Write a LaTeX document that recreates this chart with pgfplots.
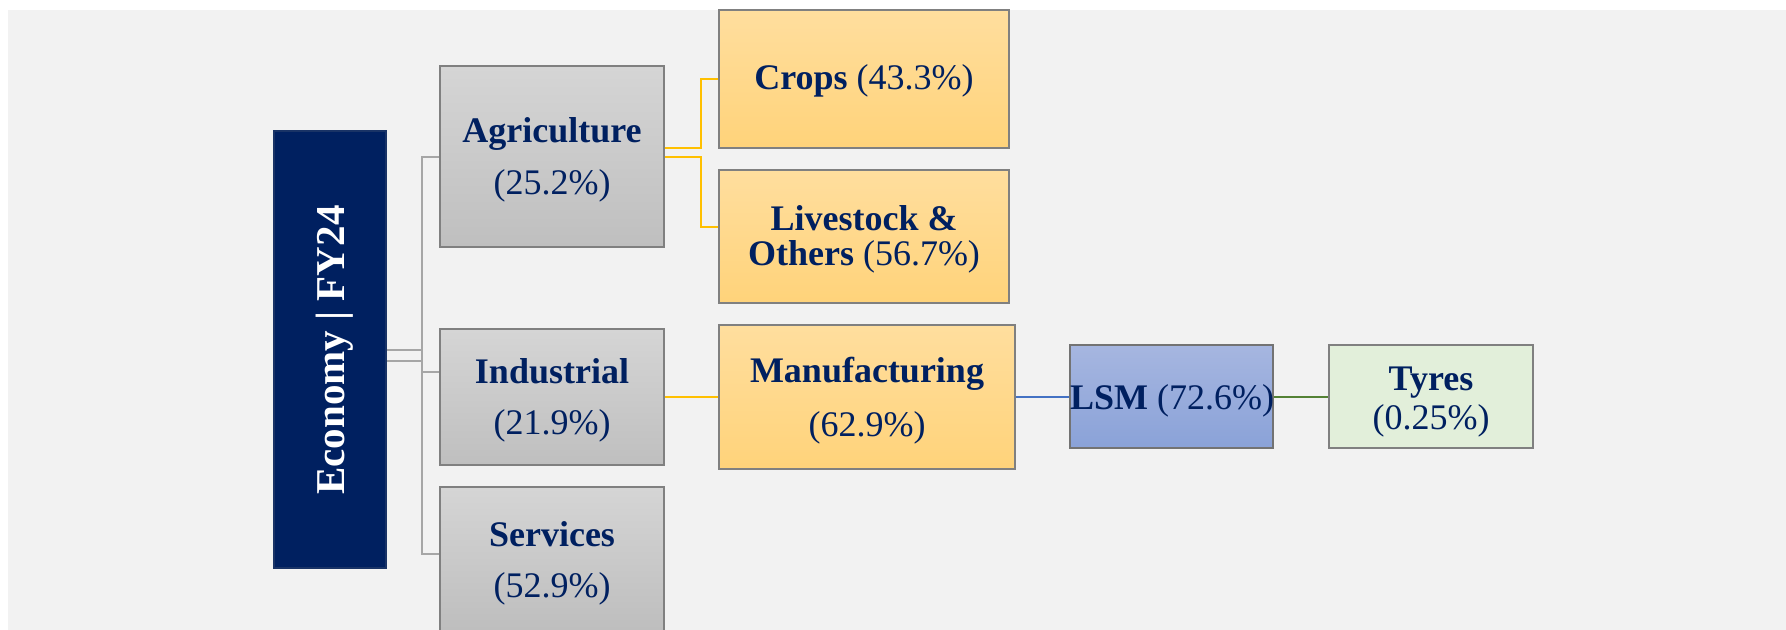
\documentclass[border=0pt]{standalone}
\usepackage{fontspec}
\setmainfont{Liberation Serif}
\usepackage{pgfplots}
\pgfplotsset{compat=1.18}

\definecolor{navy}{HTML}{002060}
\definecolor{bgray}{HTML}{F2F2F2}
\definecolor{linegray}{HTML}{A6A6A6}
\definecolor{gold}{HTML}{FFC000}
\definecolor{lblue}{HTML}{4472C4}
\definecolor{lgreen}{HTML}{548235}

% one box: x1, y1, x2, y2 (pixels from top left), style
\newcommand{\rect}[5]{\addplot[#5] coordinates {(#1,#2) (#3,#2) (#3,#4) (#1,#4)} -- cycle;}
\newcommand{\lbl}[3]{\node[anchor=base, text=navy, font=\fontsize{18}{21}\selectfont] at (axis cs:#1,#2) {#3};}

\begin{document}
\begin{tikzpicture}
\begin{axis}[
    hide axis, scale only axis,
    width=893pt, height=315pt,
    xmin=0, xmax=1786, ymin=0, ymax=630, y dir=reverse,
]
% background
\rect{0}{0}{1786}{630}{draw=none, fill=white}
\rect{8}{10}{1786}{630}{draw=none, fill=bgray}

% connectors
\addplot[linegray, line width=1.4pt] coordinates {(386,350) (422,350)};
\addplot[linegray, line width=1.4pt] coordinates {(386,361) (422,361)};
\addplot[linegray, line width=1.4pt] coordinates {(440,157) (422,157) (422,554) (440,554)};
\addplot[linegray, line width=1.4pt] coordinates {(422,372) (440,372)};
\addplot[gold, line width=1.4pt] coordinates {(664,148) (701,148) (701,79) (719,79)};
\addplot[gold, line width=1.4pt] coordinates {(664,157) (701,157) (701,227) (719,227)};
\addplot[gold, line width=1.4pt] coordinates {(664,397) (719,397)};
\addplot[lblue, line width=1.4pt] coordinates {(1015,397) (1070,397)};
\addplot[lgreen, line width=1.4pt] coordinates {(1273,397) (1329,397)};

% boxes
\rect{274}{131}{386}{568}{draw=navy!80!gray, line width=0.6pt, fill=navy}
\rect{440}{66}{664}{247}{draw=gray, line width=0.8pt, top color={rgb,255:red,213;green,213;blue,213}, bottom color={rgb,255:red,191;green,191;blue,191}}
\rect{440}{329}{664}{465}{draw=gray, line width=0.8pt, top color={rgb,255:red,213;green,213;blue,213}, bottom color={rgb,255:red,191;green,191;blue,191}}
\rect{440}{487}{664}{660}{draw=gray, line width=0.8pt, top color={rgb,255:red,213;green,213;blue,213}, bottom color={rgb,255:red,185;green,185;blue,185}}
\rect{719}{10}{1009}{148}{draw=gray, line width=0.8pt, top color={rgb,255:red,255;green,222;blue,158}, bottom color={rgb,255:red,255;green,211;blue,122}}
\rect{719}{170}{1009}{303}{draw=gray, line width=0.8pt, top color={rgb,255:red,255;green,222;blue,158}, bottom color={rgb,255:red,255;green,211;blue,122}}
\rect{719}{325}{1015}{469}{draw=gray, line width=0.8pt, top color={rgb,255:red,255;green,222;blue,158}, bottom color={rgb,255:red,255;green,211;blue,122}}
\rect{1070}{345}{1273}{448}{draw=gray!90!black, line width=0.8pt, top color={rgb,255:red,166;green,182;blue,224}, bottom color={rgb,255:red,138;green,162;blue,216}}
\rect{1329}{345}{1533}{448}{draw=gray, line width=0.8pt, fill={rgb,255:red,226;green,239;blue,218}}

% texts
\node[anchor=base, rotate=90, text=white, font=\bfseries\fontsize{20.5}{24}\selectfont] at (axis cs:344,350) {Economy | FY24};
\lbl{552}{143}{\textbf{Agriculture}}
\lbl{552}{195}{(25.2\%)}
\lbl{552}{383}{\textbf{Industrial}}
\lbl{552}{434}{(21.9\%)}
\lbl{552}{546}{\textbf{Services}}
\lbl{552}{597}{(52.9\%)}
\lbl{864}{90}{\textbf{Crops} (43.3\%)}
\lbl{864}{231}{\textbf{Livestock \&}}
\lbl{864}{266}{\textbf{Others} (56.7\%)}
\lbl{867}{382}{\textbf{Manufacturing}}
\lbl{867}{436}{(62.9\%)}
\lbl{1172}{409}{\textbf{LSM} (72.6\%)}
\lbl{1431}{390}{\textbf{Tyres}}
\lbl{1431}{429}{(0.25\%)}
\end{axis}
\end{tikzpicture}
\end{document}
